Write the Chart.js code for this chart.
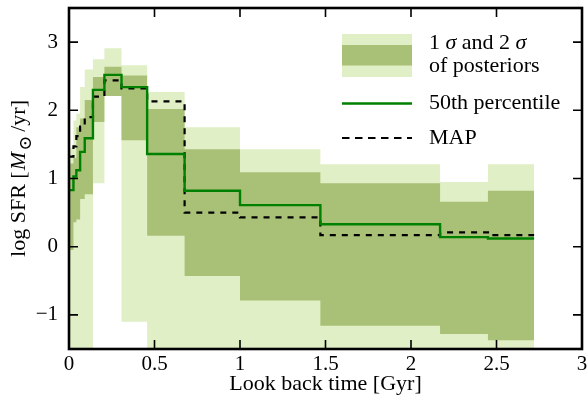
<!DOCTYPE html>
<html>
<head>
<meta charset="utf-8">
<script src="https://cdn.jsdelivr.net/npm/chart.js@4.4.0/dist/chart.umd.min.js"></script>
<style>
  html, body { margin: 0; padding: 0; background: #fff; }
  #wrap { width: 587px; height: 404px; }
</style>
</head>
<body>
<div id="wrap"><canvas id="sfhChart"></canvas></div>
<script>
// lookback-time bin edges [Gyr]
const binEdges = [0, 0.026, 0.043, 0.065, 0.092, 0.14, 0.207, 0.307, 0.457, 0.676, 1.0, 1.47, 2.17, 2.45, 2.72];

// log SFR per bin
const sfrMedian = [0.83, 1.03, 1.12, 1.39, 1.59, 2.30, 2.52, 2.34, 1.36, 0.82, 0.61, 0.33, 0.14, 0.12];
const sfrMap    = [1.32, 1.47, 1.62, 1.76, 1.90, 2.20, 2.44, 2.32, 2.13, 0.50, 0.43, 0.17, 0.21, 0.17];
const sfrLo2 = [-2, -2, -2, -2, -2, 0.93, 2.21, -1.1, -2, -2, -2, -2, -2, -2];
const sfrLo1 = [-0.05, 0.36, 0.40, 0.70, 0.77, 1.83, 2.21, 1.56, 0.16, -0.43, -0.79, -1.16, -1.28, -1.37];
const sfrHi1 = [1.22, 1.30, 1.75, 1.88, 2.15, 2.49, 2.64, 2.51, 2.02, 1.43, 1.09, 0.93, 0.66, 0.82];
const sfrHi2 = [1.45, 1.85, 1.95, 2.34, 2.60, 2.75, 2.91, 2.66, 2.27, 1.75, 1.43, 1.21, 0.95, 1.21];

const xTicks = [0, 0.5, 1, 1.5, 2, 2.5, 3];
const yTicks = [-1, 0, 1, 2, 3];

const LIGHT = '#e0efc5';
const DARK = '#a9c077';
const GREEN = '#008000';
const SERIF = "'Liberation Serif', 'DejaVu Serif', serif";
const FS = 21;   // tick labels
const TS = 22;   // titles and legend

// per-bin values -> points for a stepped line (last edge repeats last value)
function steps(vals) {
  const pts = vals.map((v, i) => ({ x: binEdges[i], y: v }));
  pts.push({ x: binEdges[vals.length], y: vals[vals.length - 1] });
  return pts;
}

function band(vals, color, fill, order) {
  return {
    data: steps(vals),
    stepped: 'before',
    borderWidth: 0,
    borderColor: 'rgba(0,0,0,0)',
    backgroundColor: color,
    pointRadius: 0,
    fill: fill,
    order: order
  };
}

const fmt = v => String(v).replace('-', '\u2212');

function pieceFont(p) {
  const size = p.sub ? TS * 0.8 : TS;
  return (p.italic ? 'italic ' : '') + size + 'px ' + SERIF;
}

// draws a run of text pieces (some italic / subscript) starting at x on baseline y
function drawPieces(ctx, pieces, x, y) {
  pieces.forEach(p => {
    ctx.font = pieceFont(p);
    ctx.fillText(p.text, x, y + (p.sub ? TS * 0.25 : 0));
    x += ctx.measureText(p.text).width + (p.gap || 0);
  });
}

function piecesWidth(ctx, pieces) {
  let w = 0;
  pieces.forEach(p => {
    ctx.font = pieceFont(p);
    w += ctx.measureText(p.text).width + (p.gap || 0);
  });
  return w;
}

const yTitle = [
  { text: 'log SFR [', gap: 1 },
  { text: 'M', italic: true, gap: 1.5 },
  { text: '\u2299', sub: true, gap: 4 },
  { text: '/yr]' }
];
const sigmaLabel = [
  { text: '1 ' },
  { text: '\u03c3', italic: true },
  { text: ' and 2 ' },
  { text: '\u03c3', italic: true }
];

// inward ticks on all four sides plus the box
const framePlugin = {
  id: 'frame',
  afterDatasetsDraw(chart) {
    const { ctx, chartArea: a, scales: { x, y } } = chart;
    ctx.save();
    ctx.strokeStyle = '#000';
    ctx.lineWidth = 1.6;
    ctx.beginPath();
    x.ticks.forEach(t => {
      const px = x.getPixelForValue(t.value);
      ctx.moveTo(px, a.bottom); ctx.lineTo(px, a.bottom - 9);
      ctx.moveTo(px, a.top); ctx.lineTo(px, a.top + 9);
    });
    y.ticks.forEach(t => {
      const py = y.getPixelForValue(t.value);
      ctx.moveTo(a.left, py); ctx.lineTo(a.left + 9, py);
      ctx.moveTo(a.right, py); ctx.lineTo(a.right - 9, py);
    });
    ctx.stroke();
    ctx.lineWidth = 2.6;
    ctx.strokeRect(a.left, a.top, a.right - a.left, a.bottom - a.top);
    ctx.restore();
  },
  afterDraw(chart) {
    const { ctx, chartArea: a } = chart;
    ctx.save();
    ctx.fillStyle = '#000';
    ctx.textBaseline = 'alphabetic';

    // y axis title, rotated
    ctx.save();
    ctx.translate(25, (a.top + a.bottom) / 2);
    ctx.rotate(-Math.PI / 2);
    drawPieces(ctx, yTitle, -piecesWidth(ctx, yTitle) / 2, 0);
    ctx.restore();

    // legend
    const lx0 = a.right - 240, lx1 = a.right - 170, tx = a.right - 153;
    ctx.fillStyle = LIGHT;
    ctx.fillRect(lx0, a.top + 26, lx1 - lx0, 43);
    ctx.fillStyle = DARK;
    ctx.fillRect(lx0, a.top + 37, lx1 - lx0, 20.5);
    ctx.fillStyle = '#000';
    drawPieces(ctx, sigmaLabel, tx, a.top + 41);
    ctx.font = TS + 'px ' + SERIF;
    ctx.fillText('of posteriors', tx, a.top + 64);
    ctx.fillText('50th percentile', tx, a.top + 101);
    ctx.fillText('MAP', tx, a.top + 136);

    ctx.lineWidth = 2.6;
    ctx.strokeStyle = GREEN;
    ctx.beginPath();
    ctx.moveTo(lx0, a.top + 95.5); ctx.lineTo(lx1, a.top + 95.5);
    ctx.stroke();
    ctx.strokeStyle = '#000';
    ctx.lineWidth = 2.2;
    ctx.setLineDash([7.5, 5.5]);
    ctx.beginPath();
    ctx.moveTo(lx0, a.top + 130); ctx.lineTo(lx1, a.top + 130);
    ctx.stroke();
    ctx.restore();
  }
};

new Chart(document.getElementById('sfhChart'), {
  type: 'line',
  data: {
    datasets: [
      {
        label: '50th percentile',
        data: steps(sfrMedian),
        stepped: 'before',
        borderColor: GREEN,
        borderWidth: 2.4,
        pointRadius: 0,
        fill: false,
        order: 1
      },
      {
        label: 'MAP',
        data: steps(sfrMap),
        stepped: 'before',
        borderColor: '#000',
        borderWidth: 2.2,
        borderDash: [6, 6],
        pointRadius: 0,
        fill: false,
        order: 2
      },
      band(sfrHi1, DARK, '+1', 3),
      band(sfrLo1, DARK, false, 3),
      band(sfrHi2, LIGHT, '+1', 4),
      band(sfrLo2, LIGHT, false, 4)
    ]
  },
  options: {
    responsive: true,
    maintainAspectRatio: false,
    animation: false,
    layout: { padding: { top: 8, right: 5, left: 0, bottom: 0 } },
    plugins: { legend: { display: false }, tooltip: { enabled: false } },
    scales: {
      x: {
        type: 'linear',
        min: 0, max: 3,
        grid: { display: false, drawTicks: false },
        border: { display: false },
        afterBuildTicks: s => { s.ticks = xTicks.map(v => ({ value: v })); },
        afterFit: s => { s.height = 55; s.paddingLeft = 0; s.paddingRight = 0; },
        ticks: {
          color: '#000', padding: 3, maxRotation: 0,
          font: { family: SERIF, size: FS },
          callback: v => fmt(v)
        },
        title: {
          display: true,
          text: 'Look back time [Gyr]',
          color: '#000',
          font: { family: SERIF, size: TS },
          padding: { top: 0, bottom: 7 }
        }
      },
      y: {
        min: -1.5, max: 3.5,
        grid: { display: false, drawTicks: false },
        border: { display: false },
        afterBuildTicks: s => { s.ticks = yTicks.map(v => ({ value: v })); },
        afterFit: s => { s.width = 69; s.paddingTop = 0; s.paddingBottom = 0; },
        ticks: {
          color: '#000', padding: 11,
          font: { family: SERIF, size: FS },
          callback: v => fmt(v)
        }
      }
    }
  },
  plugins: [framePlugin]
});
</script>
</body>
</html>
